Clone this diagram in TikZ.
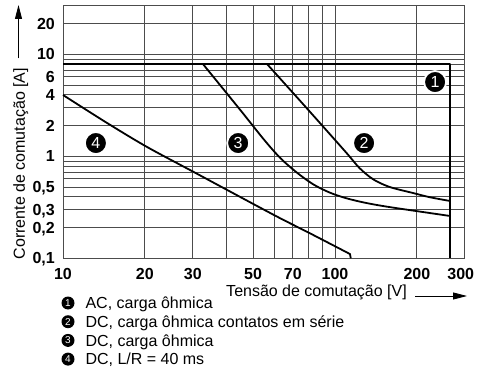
\documentclass[tikz,border=0pt]{standalone}
\usepackage{fontspec}
\setmainfont{Liberation Sans}
\usetikzlibrary{arrows.meta}

\begin{document}
\begin{tikzpicture}[x=272pt,y=102pt,font=\fontsize{16}{19}\selectfont,
    grid/.style={black!70,line width=0.9pt},
    curve/.style={black,line width=1.8pt,line join=round},
    tick/.style={font=\fontsize{16}{19}\selectfont\bfseries,inner sep=0pt,text depth=0pt},
    marker/.style={circle,fill=black,draw=white,line width=1.8pt,minimum size=22pt,inner sep=0pt,text=white},
    keymark/.style={circle,fill=black,minimum size=13pt,inner sep=0pt,text=white,font=\fontsize{10}{10}\selectfont},
    axisarrow/.style={black,line width=0.9pt,-{Triangle[length=14pt,width=7pt]}}]
    \useasboundingbox (-63pt,-111.7pt) rectangle (414pt,258.3pt);
    \foreach \k in {2,...,9} \draw[grid] ({log10(\k)},0) -- ({log10(\k)},2.477);
    \foreach \k in {1,2} \draw[grid] ({1+log10(\k)},0) -- ({1+log10(\k)},2.477);
    \foreach \d in {0,1} {
        \foreach \k in {1,...,9} \draw[grid] (0,{\d+log10(\k)}) -- (1.477,{\d+log10(\k)});
    }
    \foreach \k in {1,2} \draw[grid] (0,{2+log10(\k)}) -- (1.477,{2+log10(\k)});
    \draw[grid] (0,0) rectangle (1.477,2.477);

    \foreach \v in {10,20,30,50,70,100,200}
        \node[tick,anchor=north,yshift=-9.7pt] (x\v) at ({log10(\v)-1},0) {\v};
    \node[tick,anchor=north,yshift=-9.7pt,xshift=-4pt] (x300) at ({log10(300)-1},0) {300};
    \foreach \v/\t [count=\i] in {0.1/{0,1},0.2/{0,2},0.3/{0,3},0.5/{0,5},1/1,2/2,4/4,6/6,10/10,20/20}
        \node[tick,anchor=east,xshift=-8pt] (y\i) at (0,{log10(\v)+1}) {\t};

    \draw[curve] (0,1.903) -- (1.423,1.903) -- (1.423,0);
    \draw[curve] plot[smooth] coordinates {(0.750,1.905) (0.900,1.46) (1.040,1.04) (1.090,0.885)
        (1.140,0.775) (1.200,0.700) (1.287,0.640) (1.350,0.598) (1.423,0.562)};
    \draw[curve] plot[smooth] coordinates {(0.515,1.903) (0.650,1.46) (0.740,1.16) (0.800,0.98)
        (0.860,0.84) (0.920,0.725) (0.980,0.645) (1.040,0.59) (1.110,0.545) (1.201,0.502) (1.423,0.415)};
    \draw[curve] plot[smooth] coordinates {(0,1.601) (0.16,1.33) (0.31,1.09) (0.485,0.84)
        (0.60,0.675) (0.786,0.41) (0.908,0.245) (1.055,0.042)} -- (1.058,0);

    \node[marker] (m1) at (1.368,1.728) {1};
    \node[marker] (m2) at (1.107,1.13) {2};
    \node[marker] (m3) at (0.644,1.13) {3};
    \node[marker] (m4) at (0.121,1.13) {4};

    \node[anchor=base west] (xlabel) at (159.7pt,-38.2pt) {Tensão de comutação [V]};
    \coordinate (xtip) at (404pt,-37.7pt);
    \draw[axisarrow] ([xshift=5pt,yshift=0.5pt]xlabel.base east) -- (xtip);
    \node[rotate=90,anchor=base] (ylabel) at (-38pt,94.7pt) {Corrente de comutação [A]};
    \coordinate (ytip) at (-44.5pt,253.3pt);
    \draw[axisarrow] ([xshift=-6.5pt,yshift=6pt]ylabel.base east) -- (ytip);

    \foreach \n/\txt in {1/{AC, carga ôhmica},2/{DC, carga ôhmica contatos em série},
                         3/{DC, carga ôhmica},4/{DC, L/R = 40 ms}} {
        \node[keymark] (key\n) at (5pt,{(-44.7-18.7*(\n-1))*1pt}) {\n};
        \node[anchor=base west] (keytext\n) at ([xshift=14pt,yshift=-5.7pt]key\n.center) {\txt};
    }
\end{tikzpicture}
\end{document}
